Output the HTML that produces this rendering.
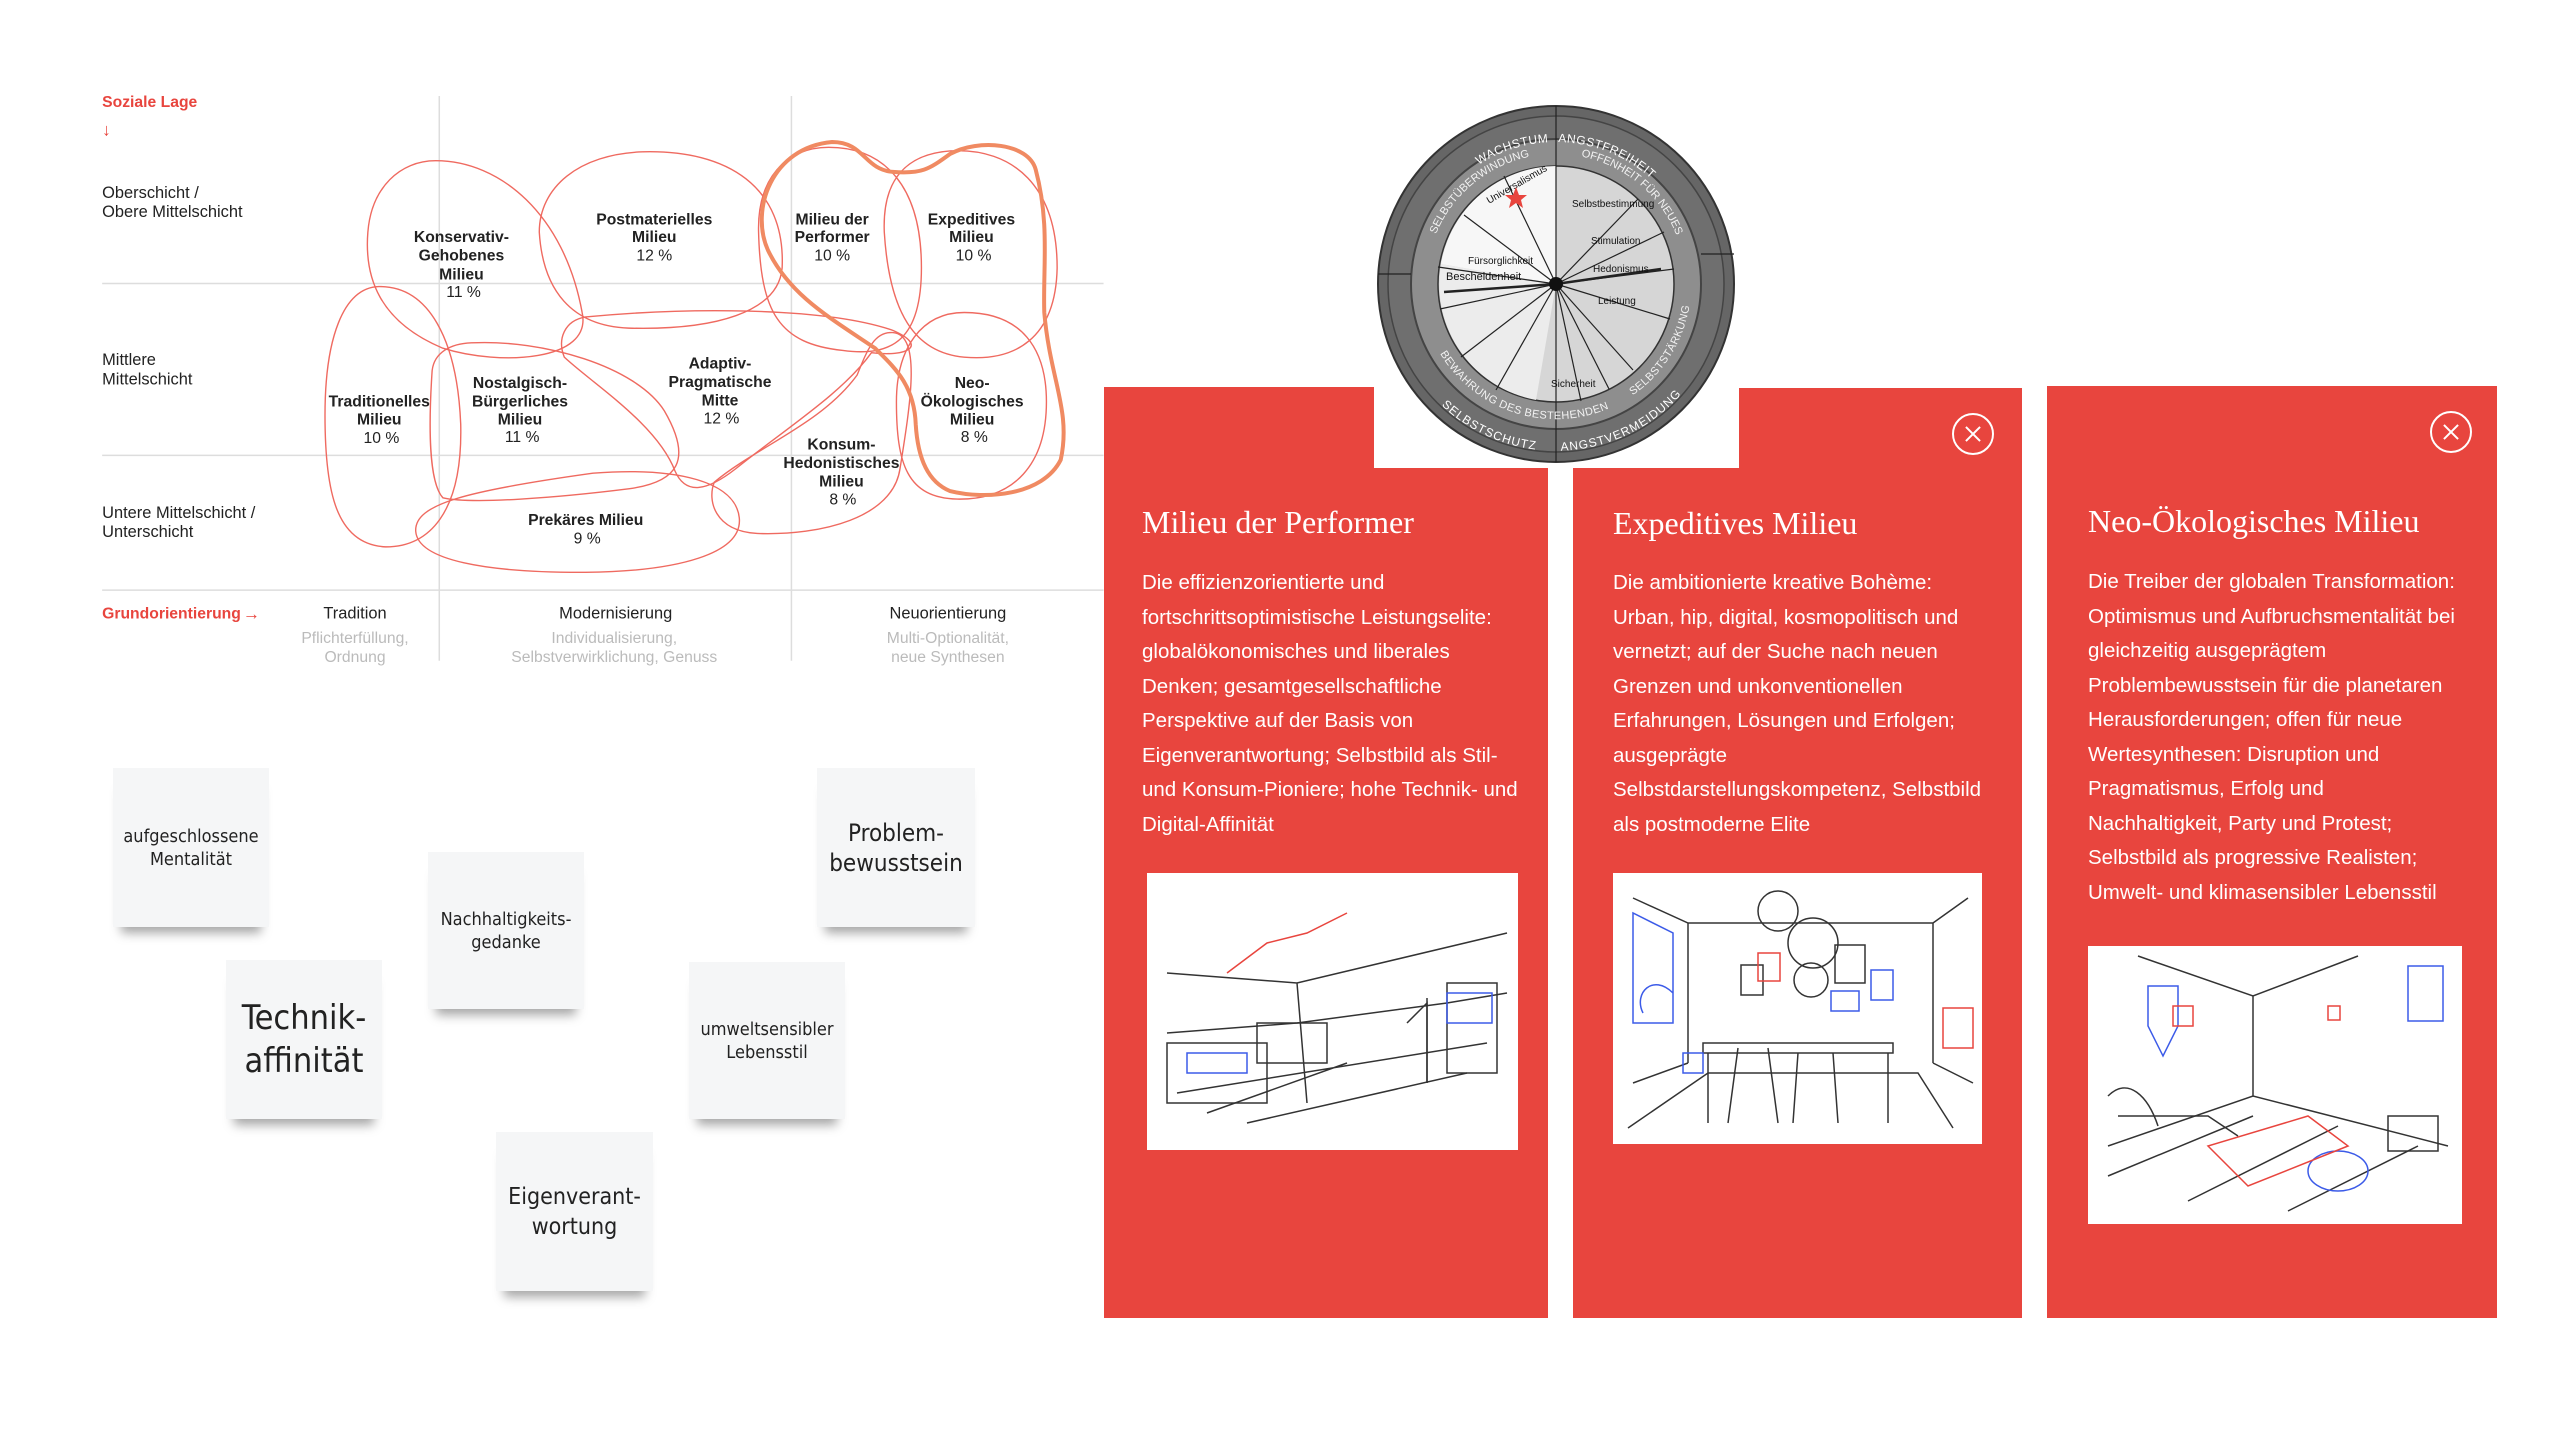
<!DOCTYPE html>
<html><head><meta charset="utf-8"><style>
html,body{margin:0;padding:0;background:#fff;width:2560px;height:1440px;overflow:hidden;position:relative;font-family:"Liberation Sans",sans-serif}
.card{position:absolute;background:#e8453e;color:#fff}
.w{position:absolute;background:#fff}
.title{position:absolute;font-family:"Liberation Serif",serif;font-size:32px;white-space:nowrap;color:#fff}
.body{position:absolute;font-size:20.5px;line-height:34.5px;white-space:nowrap;color:#fff}
.img{position:absolute;background:#fff}
.close{position:absolute;width:42px;height:42px;border:2px solid #fff;border-radius:50%;box-sizing:border-box}
.close:before,.close:after{content:"";position:absolute;left:9px;top:18px;width:20px;height:2px;background:#fff;transform:rotate(45deg)}
.close:after{transform:rotate(-45deg)}
.note{position:absolute;background:#f5f6f7;display:flex;align-items:center;justify-content:center;text-align:center;color:#222;font-family:"DejaVu Sans Condensed","Liberation Sans Narrow","Liberation Sans",sans-serif;box-shadow:0 14px 10px -8px rgba(0,0,0,.35)}
</style></head><body>

<svg style="position:absolute;left:0;top:0" width="1120" height="700" viewBox="0 0 1568 980">
<g transform="scale(1,0.625)">
<g stroke="#ddd" stroke-width="1.5" fill="none">
<line x1="615" y1="215" x2="615" y2="1480" vector-effect="non-scaling-stroke"/><line x1="1108" y1="215" x2="1108" y2="1480" vector-effect="non-scaling-stroke"/>
<line x1="143" y1="635" x2="1545" y2="635" vector-effect="non-scaling-stroke"/><line x1="143" y1="1020" x2="1545" y2="1020" vector-effect="non-scaling-stroke"/><line x1="143" y1="1322" x2="1545" y2="1322" vector-effect="non-scaling-stroke"/>
</g>
<g fill="none" stroke="#ef6a60" stroke-width="1.4">
<path vector-effect="non-scaling-stroke" d="M610 360C700 360 790 480 815 700C830 810 700 820 620 780C530 720 510 620 515 520C520 420 560 360 610 360Z"/>
<path vector-effect="non-scaling-stroke" d="M900 340C1020 335 1100 420 1095 600C1090 700 1000 740 880 735C800 730 760 650 755 520C755 420 810 345 900 340Z"/>
<path vector-effect="non-scaling-stroke" d="M1160 330C1240 330 1290 420 1290 600C1290 760 1250 800 1180 785C1090 770 1065 700 1062 520C1060 400 1100 330 1160 330Z"/>
<path vector-effect="non-scaling-stroke" d="M1330 338C1420 330 1480 420 1480 600C1478 760 1420 810 1350 800C1280 790 1245 700 1238 520C1235 400 1270 345 1330 338Z"/>
<path vector-effect="non-scaling-stroke" d="M530 642C600 640 640 760 645 950C648 1150 600 1225 540 1225C470 1220 455 1100 455 930C455 760 480 645 530 642Z"/>
<path vector-effect="non-scaling-stroke" d="M660 768C760 760 890 820 930 920C970 1030 950 1080 880 1095C780 1115 660 1130 620 1115C600 1080 600 950 605 830C608 790 630 770 660 768Z"/>
<path vector-effect="non-scaling-stroke" d="M820 710C950 690 1150 685 1250 740C1300 775 1270 800 1220 790C1180 880 1100 960 1030 1050C990 1100 960 1110 945 1055C920 950 830 860 790 800C780 760 790 718 820 710Z"/>
<path vector-effect="non-scaling-stroke" d="M1350 700C1430 700 1465 780 1465 900C1465 1040 1420 1120 1340 1118C1270 1115 1255 1040 1255 900C1255 780 1290 700 1350 700Z"/>
<path vector-effect="non-scaling-stroke" d="M1250 745C1290 750 1275 900 1260 1050C1250 1160 1150 1200 1060 1195C1000 1190 990 1120 1000 1080C1060 1000 1150 950 1200 840C1215 780 1225 742 1250 745Z"/>
<path vector-effect="non-scaling-stroke" d="M830 1060C950 1045 1030 1080 1035 1160C1040 1240 950 1280 820 1282C680 1283 585 1255 582 1190C580 1130 650 1100 830 1060Z"/>
</g>
<path vector-effect="non-scaling-stroke" d="M1165 318C1210 318 1210 380 1250 385C1290 390 1300 380 1330 345C1370 310 1440 320 1450 380C1470 500 1460 600 1462 700C1470 850 1500 920 1485 1030C1460 1110 1380 1120 1330 1100C1300 1080 1285 1030 1282 950C1280 860 1250 820 1225 780C1160 710 1105 660 1075 560C1050 470 1080 330 1165 318Z" fill="none" stroke="#f08a62" stroke-width="4"/>
</g>
<g font-size="23" fill="#222">
<text x="143" y="277">Oberschicht /</text><text x="143" y="304">Obere Mittelschicht</text>
<text x="143" y="511">Mittlere</text><text x="143" y="538">Mittelschicht</text>
<text x="143" y="725">Untere Mittelschicht /</text><text x="143" y="752">Unterschicht</text>
</g>
<text x="143" y="150" font-size="22" font-weight="bold" fill="#e8453e">Soziale Lage</text>
<text x="143" y="190" font-size="24" fill="#e8453e">↓</text>
<text x="143" y="866" font-size="22" font-weight="bold" fill="#e8453e">Grundorientierung</text>
<text x="340" y="867" font-size="24" fill="#e8453e">→</text>
<g font-size="23" text-anchor="middle" fill="#222">
<text x="497" y="866">Tradition</text><text x="862" y="866">Modernisierung</text><text x="1327" y="866">Neuorientierung</text>
</g>
<g font-size="22" text-anchor="middle" fill="#bbb">
<text x="497" y="900">Pflichterfüllung,</text><text x="497" y="927">Ordnung</text>
<text x="860" y="900">Individualisierung,</text><text x="860" y="927">Selbstverwirklichung, Genuss</text>
<text x="1327" y="900">Multi-Optionalität,</text><text x="1327" y="927">neue Synthesen</text>
</g>
<g font-size="22" font-weight="bold" text-anchor="middle" fill="#222">
<text x="646" y="339">Konservativ-</text><text x="646" y="365">Gehobenes</text><text x="646" y="391">Milieu</text><text x="649" y="416" font-weight="normal">11 %</text>
<text x="916" y="314">Postmaterielles</text><text x="916" y="339">Milieu</text><text x="916" y="365" font-weight="normal">12 %</text>
<text x="1165" y="314">Milieu der</text><text x="1165" y="339">Performer</text><text x="1165" y="365" font-weight="normal">10 %</text>
<text x="1360" y="314">Expeditives</text><text x="1360" y="339">Milieu</text><text x="1363" y="365" font-weight="normal">10 %</text>
<text x="1008" y="516">Adaptiv-</text><text x="1008" y="542">Pragmatische</text><text x="1008" y="568">Mitte</text><text x="1010" y="593" font-weight="normal">12 %</text>
<text x="728" y="543">Nostalgisch-</text><text x="728" y="569">Bürgerliches</text><text x="728" y="594">Milieu</text><text x="731" y="619" font-weight="normal">11 %</text>
<text x="531" y="569">Traditionelles</text><text x="531" y="594">Milieu</text><text x="534" y="620" font-weight="normal">10 %</text>
<text x="1361" y="543">Neo-</text><text x="1361" y="569">Ökologisches</text><text x="1361" y="594">Milieu</text><text x="1364" y="619" font-weight="normal">8 %</text>
<text x="1178" y="629">Konsum-</text><text x="1178" y="655">Hedonistisches</text><text x="1178" y="681">Milieu</text><text x="1180" y="706" font-weight="normal">8 %</text>
<text x="820" y="735">Prekäres Milieu</text><text x="822" y="761" font-weight="normal">9 %</text>
</g>
</svg>

<div class="note" style="left:113px;top:768px;width:156px;height:159px;font-size:18px;line-height:23px">aufgeschlossene<br>Mentalität</div>
<div class="note" style="left:428px;top:852px;width:156px;height:157px;font-size:18px;line-height:23px">Nachhaltigkeits-<br>gedanke</div>
<div class="note" style="left:817px;top:768px;width:158px;height:159px;font-size:24px;line-height:30px">Problem-<br>bewusstsein</div>
<div class="note" style="left:226px;top:960px;width:156px;height:159px;font-size:34px;line-height:43px">Technik-<br>affinität</div>
<div class="note" style="left:689px;top:962px;width:156px;height:157px;font-size:18px;line-height:23px">umweltsensibler<br>Lebensstil</div>
<div class="note" style="left:496px;top:1132px;width:157px;height:159px;font-size:23px;line-height:30px">Eigenverant-<br>wortung</div>

<div class="card" style="left:1104px;top:387px;width:444px;height:931px"></div>
<div class="w" style="left:1374px;top:380px;width:180px;height:88px"></div>
<div class="card" style="left:1573px;top:388px;width:449px;height:930px"></div>
<div class="w" style="left:1560px;top:380px;width:179px;height:88px"></div>
<div class="card" style="left:2047px;top:386px;width:450px;height:932px"></div>

<div class="title" style="left:1142px;top:504px">Milieu der Performer</div>
<div class="body" style="left:1142px;top:566px">Die effizienzorientierte und<br>fortschrittsoptimistische Leistungselite:<br>globalökonomisches und liberales<br>Denken; gesamtgesellschaftliche<br>Perspektive auf der Basis von<br>Eigenverantwortung; Selbstbild als Stil-<br>und Konsum-Pioniere; hohe Technik- und<br>Digital-Affinität</div>
<div class="img" style="left:1147px;top:873px;width:371px;height:277px"></div>

<div class="close" style="left:1952px;top:413px"></div>
<div class="title" style="left:1613px;top:505px">Expeditives Milieu</div>
<div class="body" style="left:1613px;top:566px">Die ambitionierte kreative Bohème:<br>Urban, hip, digital, kosmopolitisch und<br>vernetzt; auf der Suche nach neuen<br>Grenzen und unkonventionellen<br>Erfahrungen, Lösungen und Erfolgen;<br>ausgeprägte<br>Selbstdarstellungskompetenz, Selbstbild<br>als postmoderne Elite</div>
<div class="img" style="left:1613px;top:873px;width:369px;height:271px"></div>

<div class="close" style="left:2430px;top:411px"></div>
<div class="title" style="left:2088px;top:503px">Neo-Ökologisches Milieu</div>
<div class="body" style="left:2088px;top:565px">Die Treiber der globalen Transformation:<br>Optimismus und Aufbruchsmentalität bei<br>gleichzeitig ausgeprägtem<br>Problembewusstsein für die planetaren<br>Herausforderungen; offen für neue<br>Wertesynthesen: Disruption und<br>Pragmatismus, Erfolg und<br>Nachhaltigkeit, Party und Protest;<br>Selbstbild als progressive Realisten;<br>Umwelt- und klimasensibler Lebensstil</div>
<div class="img" style="left:2088px;top:946px;width:374px;height:278px"></div>

<svg style="position:absolute;left:1147px;top:873px" width="371" height="277" fill="none" stroke="#333" stroke-width="1.5">
<path d="M20 100L150 110L360 60M150 110L160 230M20 160L150 150L300 130M300 130L360 120M280 125L280 210M30 220L340 170M60 240L200 190M100 250L320 200"/>
<rect x="20" y="170" width="100" height="60"/><rect x="110" y="150" width="70" height="40"/>
<path d="M260 150l20-20v80M300 110h50v90h-50z" />
<path d="M80 100l40-30 40-10 40-20" stroke="#e8453e"/><rect x="40" y="180" width="60" height="20" stroke="#3c5be8"/><rect x="300" y="120" width="45" height="30" stroke="#3c5be8"/>
</svg>
<svg style="position:absolute;left:1613px;top:873px" width="369" height="271" fill="none" stroke="#333" stroke-width="1.5">
<path d="M20 25L75 50L320 50L355 25M75 50V190M320 50V190M75 190L20 210M320 190L360 210M15 255L95 200H305L340 255"/>
<rect x="90" y="170" width="190" height="10"/><path d="M95 180v70M275 180v70"/>
<circle cx="165" cy="38" r="20"/><circle cx="200" cy="70" r="25"/><circle cx="198" cy="107" r="17"/><rect x="128" y="92" width="22" height="30"/><rect x="222" y="72" width="30" height="38"/>
<rect x="145" y="80" width="22" height="28" stroke="#e8453e"/><path d="M330 135h30v40h-30z" stroke="#e8453e"/>
<rect x="258" y="97" width="22" height="30" stroke="#3c5be8"/><rect x="218" y="118" width="28" height="20" stroke="#3c5be8"/>
<path d="M20 40V150h40V60z M60 120c-20-20-40 0-30 20M70 180h20v20h-20z" stroke="#3c5be8"/>
<path d="M125 175l-10 75M155 175l10 75M185 180l-5 70M220 180l5 70" />
</svg>
<svg style="position:absolute;left:2088px;top:946px" width="374" height="278" fill="none" stroke="#333" stroke-width="1.5">
<path d="M50 10L165 50L270 10M165 50V150M20 200L165 150L360 200M20 230L165 170M100 255L250 180M200 265L330 200"/>
<path d="M60 40v40l15 30 15-30V40z" stroke="#3c5be8"/><rect x="320" y="20" width="35" height="55" stroke="#3c5be8"/><ellipse cx="250" cy="225" rx="30" ry="20" stroke="#3c5be8"/>
<rect x="85" y="60" width="20" height="20" stroke="#e8453e"/><rect x="240" y="60" width="12" height="14" stroke="#e8453e"/>
<path d="M120 200l100-30 40 30-100 40z" stroke="#e8453e"/>
<path d="M20 150c20-20 40 0 50 30M30 170h90l30 20"/><rect x="300" y="170" width="50" height="35"/>
</svg>

<svg style="position:absolute;left:1376px;top:104px" width="360" height="360" viewBox="0 0 360 360">
<defs>
<path id="top" d="M38 180A142 142 0 0 1 322 180"/>
<path id="bot" d="M22 180A158 158 0 0 0 338 180"/>
<path id="mid" d="M50 180A130 130 0 0 1 310 180"/>
<path id="midb" d="M52 180A128 128 0 0 0 308 180"/>
</defs>
<circle cx="180" cy="180" r="178" fill="#666" stroke="#333" stroke-width="2"/>
<circle cx="180" cy="180" r="168" fill="#6f6f6f" stroke="#444" stroke-width="1.5"/>
<circle cx="180" cy="180" r="145" fill="#8e8e8e" stroke="#444" stroke-width="2"/>
<circle cx="180" cy="180" r="118" fill="#d6d6d6" stroke="#333" stroke-width="1.5"/>
<path d="M180 180L180 62A118 118 0 0 0 65 160Z" fill="#f7f7f7"/>
<path d="M180 180L65 160A118 118 0 0 0 160 296Z" fill="#ececec"/>
<g stroke="#222" stroke-width="1.2">
<line x1="180" y1="2" x2="180" y2="180"/><line x1="180" y1="180" x2="180" y2="358"/>
<line x1="2" y1="170" x2="35" y2="170"/><line x1="325" y1="150" x2="358" y2="150"/>
<line x1="180" y1="180" x2="62" y2="163"/><line x1="180" y1="180" x2="64" y2="205"/>
<line x1="180" y1="180" x2="85" y2="253"/><line x1="180" y1="180" x2="120" y2="286"/>
<line x1="180" y1="180" x2="205" y2="297"/><line x1="180" y1="180" x2="233" y2="285"/>
<line x1="180" y1="180" x2="257" y2="266"/><line x1="180" y1="180" x2="294" y2="215"/>
<line x1="180" y1="180" x2="298" y2="165"/><line x1="180" y1="180" x2="288" y2="128"/>
<line x1="180" y1="180" x2="262" y2="95"/><line x1="180" y1="180" x2="88" y2="111"/>
<line x1="180" y1="180" x2="128" y2="72"/>
<line x1="180" y1="180" x2="285" y2="165" stroke-width="2.5"/><line x1="180" y1="180" x2="68" y2="188" stroke-width="2.5"/>
</g>
<circle cx="180" cy="180" r="7" fill="#111"/>
<g font-size="12" fill="#fff" letter-spacing="0.5">
<text><textPath href="#top" startOffset="40%" text-anchor="middle">WACHSTUM</textPath></text>
<text><textPath href="#top" startOffset="62%" text-anchor="middle">ANGSTFREIHEIT</textPath></text>
<text><textPath href="#bot" startOffset="36%" text-anchor="middle" dominant-baseline="hanging">SELBSTSCHUTZ</textPath></text>
<text><textPath href="#bot" startOffset="64%" text-anchor="middle" dominant-baseline="hanging">ANGSTVERMEIDUNG</textPath></text>
</g>
<g font-size="11" fill="#f2f2f2">
<text><textPath href="#mid" startOffset="28%" text-anchor="middle">SELBSTÜBERWINDUNG</textPath></text>
<text><textPath href="#mid" startOffset="72%" text-anchor="middle">OFFENHEIT FÜR NEUES</textPath></text>
<text><textPath href="#midb" startOffset="40%" text-anchor="middle" dominant-baseline="hanging">BEWAHRUNG DES BESTEHENDEN</textPath></text>
<text><textPath href="#midb" startOffset="82%" text-anchor="middle" dominant-baseline="hanging">SELBSTSTÄRKUNG</textPath></text>
</g>
<g font-size="10" fill="#111">
<text x="70" y="176" font-size="11">Bescheidenheit</text>
<text x="217" y="168">Hedonismus</text><text x="222" y="200">Leistung</text>
<text x="196" y="103">Selbstbestimmung</text><text x="215" y="140">Stimulation</text>
<text x="175" y="283">Sicherheit</text>
<text x="113" y="100" transform="rotate(-30 113 100)">Universalismus</text>
<text x="92" y="160">Fürsorglichkeit</text>
</g>
<path d="M140 83l3 8 8 0-6 5 2 8-7-5-7 5 2-8-6-5 8 0z" fill="#e8453e"/>
</svg>

</body></html>
